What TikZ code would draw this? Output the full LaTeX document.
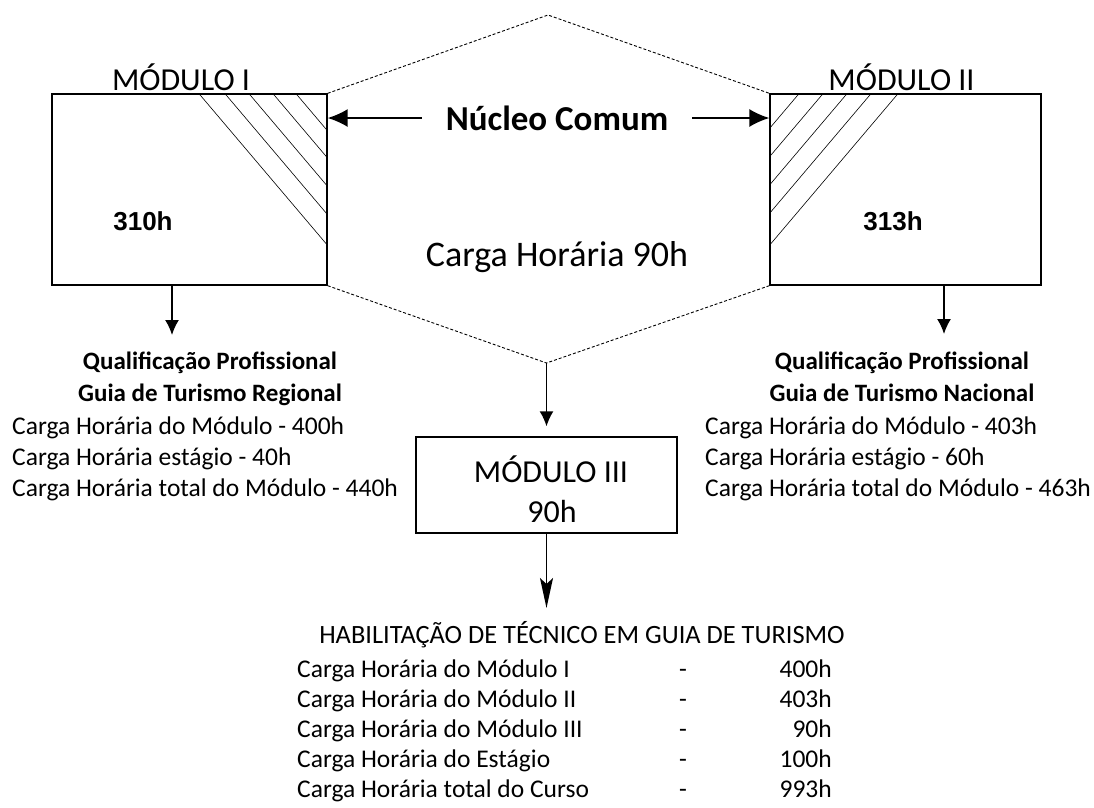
\documentclass[tikz,border=0pt]{standalone}
\usepackage{fontspec}
\setmainfont{Carlito}
\newfontfamily\numfont{Liberation Sans}
\usetikzlibrary{arrows.meta}

\begin{document}
\begin{tikzpicture}[x=1pt, y=-1pt,
            every node/.style = {inner sep=0pt},
            modbox/.style = {draw, line width=1.4pt, minimum height=191pt},
            hatch/.style = {line width=0.6pt},
            hexa/.style = {line width=0.9pt, dash pattern=on 3pt off 2pt},
            arr/.style = {line width=1.6pt, -{Latex[length=15pt,width=14pt]}},
            wide/.style = {line width=1.6pt, -{Latex[length=20pt,width=18pt]}},
            long/.style = {line width=1.6pt, -{Stealth[length=30pt,width=13pt,inset=6pt]}},
            body/.style = {font=\fontsize{25.5}{31}\selectfont},
            qual/.style = {font=\bfseries\fontsize{25}{31}\selectfont},
            modname/.style = {font=\fontsize{32}{40}\selectfont},
            hours/.style = {font=\numfont\bfseries\fontsize{26}{30}\selectfont}
        ]
        \useasboundingbox (0,0) rectangle (1094,807);

        % modules I and II
        \node[modbox, minimum width=275pt] (M1) at (189.5,189.5) {};
        \node[modbox, minimum width=271pt] (M2) at (905.5,189.5) {};
        \node[modname, anchor=base] (L1) at (181,90) {MÓDULO I};
        \node[modname, anchor=base] (L2) at (901.5,90) {MÓDULO II};
        \node[hours, anchor=base] (H1) at (143,230) {310h};
        \node[hours, anchor=base] (H2) at (893,230) {313h};
        \foreach \d in {32,55,79,103,129}
            \draw[hatch] ([xshift=-1pt*\d]M1.north east) -- ([yshift=-1.18pt*\d]M1.north east);
        \foreach \d in {30,54,78,102,129}
            \draw[hatch] ([xshift=1pt*\d]M2.north west) -- ([yshift=-1.18pt*\d]M2.north west);

        % common core
        \coordinate (ht) at (548,15);
        \coordinate (hb) at (546.5,363);
        \draw[hexa] (M1.north east) -- (ht) -- (M2.north west);
        \draw[hexa] (M1.south east) -- (hb) -- (M2.south west);
        \node[font=\bfseries\fontsize{35}{40}\selectfont, text height=25pt, text depth=0pt, inner xsep=24pt] (NC) at (557,118) {Núcleo Comum};
        \draw[wide] (NC.west) -- (NC.west -| M1.east);
        \draw[wide] (NC.east) -- (NC.east -| M2.west);
        \node[font=\fontsize{36}{40}\selectfont, anchor=base] (CH) at (557,266) {Carga Horária 90h};

        % module III
        \node[draw, line width=1.4pt, minimum width=261pt, minimum height=96pt] (M3) at (546.5,485) {};
        \node[modname, anchor=base] (L3) at (551,482) {MÓDULO III};
        \node[modname, anchor=base] (H3) at (552,522) {90h};
        \draw[arr] (hb) -- ([yshift=10pt]M3.north);

        % qualifications
        \coordinate (a1) at (172,335);
        \coordinate (a2) at (944,334);
        \draw[arr] (M1.south -| a1) -- (a1);
        \draw[arr] (M2.south -| a2) -- (a2);
        \node[qual, anchor=base] (Q1) at (210,369) {Qualificação Profissional};
        \node[qual, anchor=base] (G1) at (210,401) {Guia de Turismo Regional};
        \node[qual, anchor=base] (Q2) at (902,369) {Qualificação Profissional};
        \node[qual, anchor=base] (G2) at (902,401) {Guia de Turismo Nacional};
        \foreach \t [count=\i] in {Carga Horária do Módulo - 400h, Carga Horária estágio - 40h, Carga Horária total do Módulo - 440h}
            \node[body, anchor=base west] (R\i) at (12,403+31*\i) {\t};
        \foreach \t [count=\i] in {Carga Horária do Módulo - 403h, Carga Horária estágio - 60h, Carga Horária total do Módulo - 463h}
            \node[body, anchor=base west] (S\i) at (705,403+31*\i) {\t};

        % course total
        \coordinate (a3) at (546.5,608);
        \draw[long] (M3.south) -- (a3);
        \node[font=\fontsize{26.4}{30}\selectfont, anchor=base] (HT) at (582,643) {HABILITAÇÃO DE TÉCNICO EM GUIA DE TURISMO};
        \foreach \t/\v [count=\i] in {Carga Horária do Módulo I/400h, Carga Horária do Módulo II/403h, Carga Horária do Módulo III/90h, Carga Horária do Estágio/100h, Carga Horária total do Curso/993h} {
            \node[body, anchor=base west] (T\i) at (297,647+30*\i) {\t};
            \node[body, anchor=base] (D\i) at (683,647+30*\i) {-};
            \node[body, anchor=base east] (V\i) at (832,647+30*\i) {\v};
        }
\end{tikzpicture}
\end{document}
